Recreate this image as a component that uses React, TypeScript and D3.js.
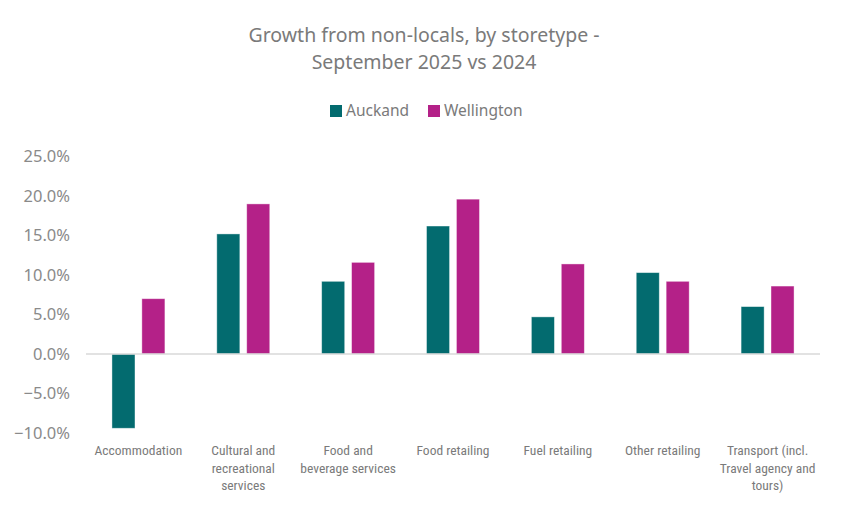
import { useEffect, useRef } from "react";
import * as d3 from "d3";

const categories = [
  ["Accommodation"],
  ["Cultural and", "recreational", "services"],
  ["Food and", "beverage services"],
  ["Food retailing"],
  ["Fuel retailing"],
  ["Other retailing"],
  ["Transport (incl.", "Travel agency and", "tours)"],
];
const seriesNames = ["Auckand", "Wellington"];
const auckland = [-9.4, 15.2, 9.2, 16.2, 4.7, 10.3, 6.0];
const wellington = [7.0, 19.0, 11.6, 19.6, 11.4, 9.2, 8.6];
const yTicks = [-10, -5, 0, 5, 10, 15, 20, 25];
const colors = ["#036b6f", "#b42188"];

const App = () => {
  const svgRef = useRef<SVGSVGElement>(null);

  useEffect(() => {
    if (!svgRef.current) return;
    const svg = d3.select(svgRef.current);
    svg.selectAll("*").remove();

    const W = 847;
    const H = 508;
    const left = 86;
    const right = 820;
    const top = 156.5;
    const bottom = 433;

    svg.attr("width", W).attr("height", H);
    svg.append("rect").attr("width", W).attr("height", H).attr("fill", "#fff");

    const keys = categories.map((c) => c.join(" "));
    const x0 = d3.scaleBand().domain(keys).range([left, right]).paddingInner(0.495).paddingOuter(0.2475);
    const x1 = d3.scaleBand().domain(seriesNames).range([0, x0.bandwidth()]).paddingInner(0.23);
    const y = d3.scaleLinear().domain([-10, 25]).range([bottom, top]);

    // y tick labels
    svg
      .append("g")
      .selectAll("text")
      .data(yTicks)
      .join("text")
      .attr("x", 70)
      .attr("y", (d) => y(d))
      .attr("dy", "0.35em")
      .attr("text-anchor", "end")
      .style("font-family", "'Noto Sans', 'Open Sans', sans-serif")
      .style("font-size", "16.5px")
      .style("fill", "#8a8a8a")
      .text((d) => d3.format(".1f")(d) + "%");

    // bars
    const values = [auckland, wellington];
    seriesNames.forEach((s, si) => {
      svg
        .append("g")
        .selectAll("rect")
        .data(values[si])
        .join("rect")
        .attr("x", (_, i) => (x0(keys[i]) as number) + (x1(s) as number))
        .attr("y", (d) => y(Math.max(0, d)))
        .attr("width", x1.bandwidth())
        .attr("height", (d) => Math.abs(y(d) - y(0)))
        .attr("fill", colors[si])
        .attr("stroke", "#ffffff")
        .attr("stroke-opacity", 0.5)
        .attr("stroke-width", 0.8);
    });

    // zero line
    svg
      .append("line")
      .attr("x1", left)
      .attr("x2", right)
      .attr("y1", y(0))
      .attr("y2", y(0))
      .attr("stroke", "#d9d9d9")
      .attr("stroke-width", 1.5);

    // category labels
    const cat = svg.append("g");
    categories.forEach((lines, i) => {
      const cx = (x0(keys[i]) as number) + x0.bandwidth() / 2;
      const t = cat
        .append("text")
        .attr("text-anchor", "middle")
        .style("font-family", "'Liberation Sans Narrow', 'Roboto Condensed', sans-serif")
        .style("font-size", "13.5px")
        .style("fill", "#7a7a7a");
      lines.forEach((l, li) => {
        t.append("tspan").attr("x", cx).attr("y", 455 + li * 17.5).text(l);
      });
    });

    // title
    const title = svg
      .append("text")
      .attr("text-anchor", "middle")
      .style("font-family", "'Noto Sans', 'Open Sans', sans-serif")
      .style("font-size", "19.5px")
      .style("fill", "#7a7a7a");
    ["Growth from non-locals, by storetype -", "September 2025 vs 2024"].forEach((l, i) => {
      title.append("tspan").attr("x", 424).attr("y", 42 + i * 27).text(l);
    });

    // legend
    const legendX = [330, 428];
    seriesNames.forEach((s, i) => {
      const g = svg.append("g").attr("transform", `translate(${legendX[i]},111)`);
      g.append("rect").attr("x", 0).attr("y", -6).attr("width", 12).attr("height", 12).attr("fill", colors[i]);
      g.append("text")
        .attr("x", 16)
        .attr("dy", "0.35em")
        .style("font-family", "'Noto Sans', 'Open Sans', sans-serif")
        .style("font-size", "15.5px")
        .style("fill", "#7a7a7a")
        .text(s);
    });
  }, []);

  return <svg ref={svgRef} style={{ position: "absolute", left: 0, top: 0 }}></svg>;
};

export default App;
